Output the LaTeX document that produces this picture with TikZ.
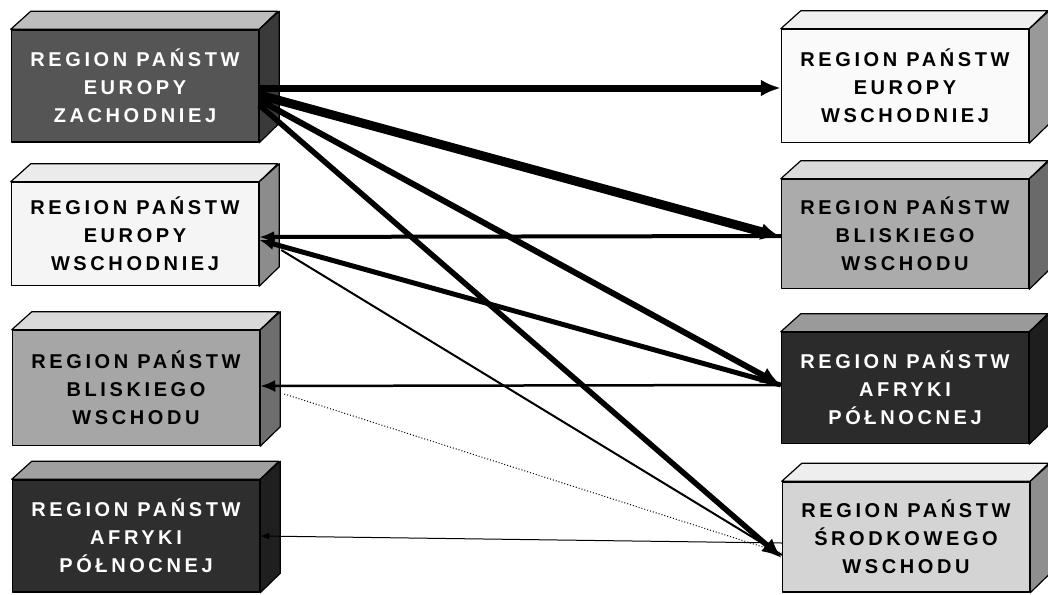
\documentclass[tikz,border=0pt]{standalone}
\usepackage{fontspec}
\setmainfont{Liberation Sans}
\newfontfamily\regionfont[LetterSpace=18]{Liberation Sans}
\usetikzlibrary{arrows.meta}
\definecolor{frontA}{HTML}{555555}
\definecolor{topA}{HTML}{BDBDBD}
\definecolor{sideA}{HTML}{3A3A3A}
\definecolor{frontB}{HTML}{F5F5F5}
\definecolor{topB}{HTML}{EBEBEB}
\definecolor{sideB}{HTML}{8C8C8C}
\definecolor{frontC}{HTML}{A6A6A6}
\definecolor{topC}{HTML}{D9D9D9}
\definecolor{sideC}{HTML}{6E6E6E}
\definecolor{frontD}{HTML}{2E2E2E}
\definecolor{topD}{HTML}{A0A0A0}
\definecolor{sideD}{HTML}{1F1F1F}
\definecolor{frontE}{HTML}{FAFAFA}
\definecolor{topE}{HTML}{F0F0F0}
\definecolor{sideE}{HTML}{999999}
\definecolor{frontF}{HTML}{ABABAB}
\definecolor{topF}{HTML}{DADADA}
\definecolor{sideF}{HTML}{6A6A6A}
\definecolor{frontG}{HTML}{2B2B2B}
\definecolor{topG}{HTML}{9A9A9A}
\definecolor{sideG}{HTML}{1E1E1E}
\definecolor{frontH}{HTML}{D4D4D4}
\definecolor{topH}{HTML}{EEEEEE}
\definecolor{sideH}{HTML}{8E8E8E}

\begin{document}
\begin{tikzpicture}[
  x=1pt,
  y=-1pt,
  line join=round,
  front/.style={draw=black,line width=1.5pt,inner sep=0pt,minimum width=247pt,align=center,
    font=\regionfont\bfseries\fontsize{20}{28}\selectfont},
  boxedge/.style={draw=black,line width=1.2pt},
  flow/.style={draw=black,line cap=butt},
  bighead/.style={-{Latex[length=20pt,width=17pt]}},
  smallhead/.style={-{Latex[length=15pt,width=12pt]}},
  tinyhead/.style={-{Latex[length=9pt,width=7pt]}}
]
  \useasboundingbox (0,0) rectangle (1048,594);

  % Region blocks: front face as node, top and side faces from its corners.
  \foreach \n/\cx/\cy/\h/\fr/\tp/\sd/\tc/\txt in {
    L1/135/86/112/frontA/topA/sideA/white/{REGION PAŃSTW\\EUROPY\\ZACHODNIEJ},
    L2/135/234/103/frontB/topB/sideB/black/{REGION PAŃSTW\\EUROPY\\WSCHODNIEJ},
    L3/136/388/115/frontC/topC/sideC/black/{REGION PAŃSTW\\BLISKIEGO\\WSCHODU},
    L4/136/536/112/frontD/topD/sideD/white/{REGION PAŃSTW\\AFRYKI\\PÓŁNOCNEJ},
    R1/905/86/113/frontE/topE/sideE/black/{REGION PAŃSTW\\EUROPY\\WSCHODNIEJ},
    R2/905/234/109/frontF/topF/sideF/black/{REGION PAŃSTW\\BLISKIEGO\\WSCHODU},
    R3/905/388/111/frontG/topG/sideG/white/{REGION PAŃSTW\\AFRYKI\\PÓŁNOCNEJ},
    R4/906/537/110/frontH/topH/sideH/black/{REGION PAŃSTW\\ŚRODKOWEGO\\WSCHODU}} {
    \node[front,fill=\fr,text=\tc,minimum height=\h pt] (\n) at (\cx,\cy) {\txt};
    \filldraw[boxedge,fill=\tp] (\n.north west) -- ++(20,-18) -- ++(247,0) -- (\n.north east) -- cycle;
    \filldraw[boxedge,fill=\sd] (\n.north east) -- ++(20,-18) -- ++(0,\h) -- (\n.south east) -- cycle;
  }

  % Flows out of western Europe.
  \draw[flow,line width=7pt,bighead] ([yshift=-2pt]L1.east) -- ([yshift=-2pt]R1.west);
  \draw[flow,line width=9pt,bighead] ([yshift=-9pt]L1.east) -- ([yshift=-3pt]R2.west);
  \draw[flow,line width=6pt,bighead] ([yshift=-14pt]L1.east) -- ([yshift=3pt]R3.west);
  \draw[flow,line width=5.5pt,bighead] ([yshift=-19pt]L1.east) -- ([yshift=-21pt]R4.west);

  % Flows back to eastern Europe and the Near East.
  \draw[flow,line width=4pt,smallhead] ([yshift=-2pt]R2.west) -- ([yshift=-3pt]L2.east);
  \draw[flow,line width=5pt,smallhead] ([yshift=3pt]R3.west) -- ([yshift=-6pt]L2.east);
  \draw[flow,line width=2pt] ([xshift=22pt,yshift=-16pt]L2.east) -- ([yshift=-18pt]R4.west);
  \draw[flow,line width=2.5pt,smallhead] ([yshift=3pt]R3.west) -- ([yshift=2pt]L3.east);
  \draw[flow,line width=1pt,dotted] ([xshift=24pt,yshift=-6pt]L3.east) -- ([yshift=-16pt]R4.west);
  \draw[flow,line width=1pt,tinyhead] ([yshift=-6pt]R4.west) -- (L4.east);
\end{tikzpicture}
\end{document}
